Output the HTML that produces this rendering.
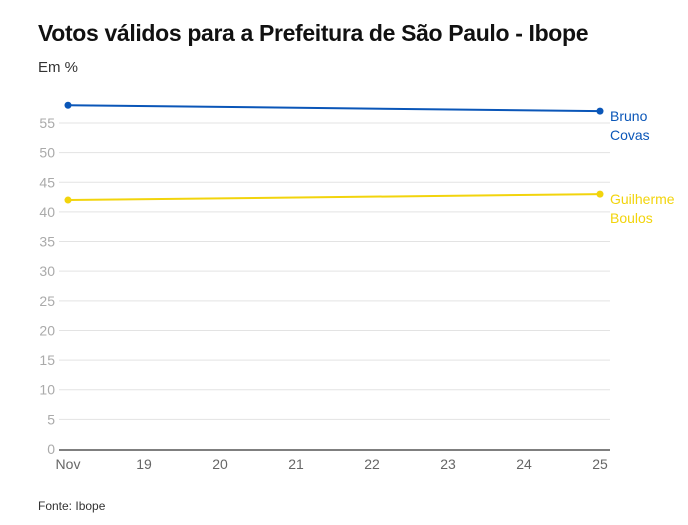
<!DOCTYPE html>
<html><head><meta charset="utf-8"><style>
body{margin:0;background:#fff;font-family:"Liberation Sans",sans-serif;}
svg{display:block}
</style></head><body>
<svg width="688" height="525">
<text x="38" y="41" font-size="23" font-weight="bold" fill="#111" letter-spacing="-0.35">Votos válidos para a Prefeitura de São Paulo - Ibope</text>
<text x="38" y="72" font-size="15" fill="#333">Em %</text>
<g id="grid"></g><g id="series"></g>
<text x="38" y="510" font-size="12" fill="#333">Fonte: Ibope</text>
</svg>
<script>
const days=[18,19,20,21,22,23,24,25];
const dayLabels=["Nov","19","20","21","22","23","24","25"];
const yTicks=[0,5,10,15,20,25,30,35,40,45,50,55];
const seriesNames=["Bruno Covas","Guilherme Boulos"];
const seriesColors=["#0a56b8","#f2d40c"];
const covasDays=[18,25];
const covasValues=[58,57];
const boulosDays=[18,25];
const boulosValues=[42,43];
const NS="http://www.w3.org/2000/svg";
const x=d=>68+(d-18)*76;
const y=v=>449-v*(326/55);
function mk(t,a,p){const e=document.createElementNS(NS,t);for(const k in a)e.setAttribute(k,a[k]);p.appendChild(e);return e;}
const g=document.getElementById('grid'),s=document.getElementById('series');
yTicks.forEach(v=>{
 if(v>0){const l=mk('line',{x1:59,x2:610,y1:y(v),y2:y(v),stroke:'#e3e3e3','stroke-width':1},g);
 
 }
 const t=mk('text',{x:55,y:y(v)+5,'text-anchor':'end','font-size':14,fill:'#aaa'},g);t.textContent=v;
 
 
});
const ax=mk('line',{x1:59,x2:610,y1:450,y2:450,stroke:'#333','stroke-width':1.3},g);


days.forEach((d,i)=>{const t=mk('text',{x:x(d),y:469,'text-anchor':'middle','font-size':14,fill:'#666'},g);t.textContent=dayLabels[i];
 
 });
[[covasDays,covasValues],[boulosDays,boulosValues]].forEach(([ds,vs],k)=>{
 const c=seriesColors[k];
 const p=mk('polyline',{points:ds.map((d,i)=>x(d)+','+y(vs[i])).join(' '),fill:'none',stroke:c,'stroke-width':2},s);
 
 
 ds.forEach((d,i)=>{const ci=mk('circle',{cx:x(d),cy:y(vs[i]),r:3.5,fill:c},s);
 
 });
 const parts=seriesNames[k].split(' ');
 const ly=y(vs[vs.length-1]);
 parts.forEach((w,j)=>{const t=mk('text',{x:610,y:ly+10+j*19,'font-size':14,fill:c},s);t.textContent=w;
 
 });
});
</script>
</body></html>
